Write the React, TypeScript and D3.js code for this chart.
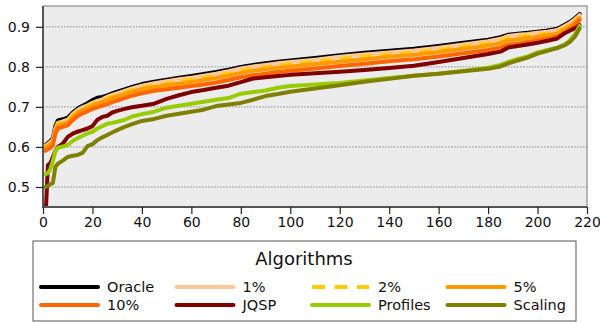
import React, { useRef, useEffect } from "react";
import * as d3 from "d3";

// sample positions (instance rank)
const xs = [
  1, 2, 3, 4, 5, 6, 8, 10, 12, 14, 16, 18, 20, 22, 24, 26, 28, 30, 33, 36, 40,
  45, 50, 55, 60, 65, 70, 75, 80, 85, 90, 95, 100, 110, 120, 130, 140, 150,
  160, 170, 180, 185, 188, 192, 196, 200, 204, 208, 211, 213, 215, 216, 217,
];

const oracle = [
  0.605, 0.61, 0.615, 0.622, 0.652, 0.666, 0.669, 0.673, 0.686, 0.696, 0.703,
  0.709, 0.717, 0.723, 0.725, 0.729, 0.734, 0.738, 0.744, 0.75, 0.757, 0.763,
  0.768, 0.773, 0.777, 0.782, 0.787, 0.793, 0.8, 0.805, 0.809, 0.813, 0.816,
  0.822, 0.829, 0.835, 0.84, 0.845, 0.852, 0.86, 0.868, 0.874, 0.88, 0.883,
  0.885, 0.888, 0.891, 0.895, 0.905, 0.912, 0.921, 0.926, 0.932,
];
const pct1 = [
  0.603, 0.607, 0.612, 0.618, 0.646, 0.66, 0.664, 0.668, 0.682, 0.692, 0.699,
  0.704, 0.71, 0.715, 0.719, 0.725, 0.73, 0.734, 0.74, 0.746, 0.753, 0.759,
  0.764, 0.769, 0.773, 0.778, 0.783, 0.789, 0.796, 0.801, 0.805, 0.809, 0.812,
  0.818, 0.825, 0.831, 0.836, 0.841, 0.848, 0.856, 0.864, 0.87, 0.877, 0.88,
  0.882, 0.885, 0.888, 0.892, 0.902, 0.909, 0.918, 0.923, 0.929,
];
const pct2 = [
  0.6, 0.605, 0.61, 0.616, 0.643, 0.657, 0.661, 0.665, 0.678, 0.689, 0.696,
  0.701, 0.707, 0.712, 0.716, 0.721, 0.726, 0.73, 0.736, 0.742, 0.748, 0.754,
  0.758, 0.763, 0.767, 0.772, 0.777, 0.783, 0.79, 0.795, 0.799, 0.803, 0.806,
  0.812, 0.819, 0.825, 0.83, 0.835, 0.842, 0.85, 0.858, 0.864, 0.871, 0.874,
  0.877, 0.88, 0.883, 0.887, 0.897, 0.905, 0.914, 0.919, 0.925,
];
const pct5 = [
  0.598, 0.602, 0.607, 0.612, 0.64, 0.653, 0.657, 0.661, 0.674, 0.685, 0.692,
  0.697, 0.703, 0.708, 0.712, 0.717, 0.722, 0.726, 0.732, 0.738, 0.744, 0.749,
  0.754, 0.758, 0.762, 0.767, 0.772, 0.778, 0.785, 0.79, 0.794, 0.798, 0.801,
  0.807, 0.813, 0.819, 0.825, 0.83, 0.837, 0.845, 0.853, 0.859, 0.866, 0.869,
  0.872, 0.875, 0.879, 0.883, 0.893, 0.901, 0.91, 0.916, 0.922,
];
const pct10 = [
  0.59, 0.594, 0.598, 0.604, 0.632, 0.646, 0.65, 0.654, 0.667, 0.677, 0.684,
  0.689, 0.695, 0.699, 0.703, 0.707, 0.712, 0.716, 0.722, 0.728, 0.734, 0.74,
  0.744, 0.748, 0.752, 0.756, 0.761, 0.767, 0.774, 0.779, 0.783, 0.787, 0.79,
  0.796, 0.802, 0.808, 0.814, 0.819, 0.826, 0.834, 0.842, 0.848, 0.855, 0.858,
  0.862, 0.866, 0.87, 0.875, 0.886, 0.895, 0.904, 0.911, 0.917,
];
const jqsp = [
  0.42, 0.555, 0.56, 0.575, 0.59, 0.6, 0.608, 0.625, 0.633, 0.638, 0.642,
  0.646, 0.652, 0.668, 0.675, 0.678, 0.686, 0.69, 0.695, 0.699, 0.703, 0.708,
  0.72, 0.729, 0.737, 0.742, 0.748, 0.753, 0.762, 0.771, 0.774, 0.777, 0.78,
  0.784, 0.788, 0.792, 0.797, 0.803, 0.812, 0.822, 0.832, 0.838, 0.848, 0.852,
  0.856, 0.86, 0.865, 0.871, 0.884, 0.89, 0.896, 0.9, 0.904,
];
const profiles = [
  0.532, 0.535, 0.545, 0.565, 0.59, 0.598, 0.601, 0.605, 0.615, 0.622, 0.628,
  0.634, 0.638, 0.646, 0.652, 0.658, 0.66, 0.663, 0.668, 0.676, 0.682, 0.688,
  0.698, 0.703, 0.708, 0.713, 0.718, 0.722, 0.733, 0.737, 0.741, 0.748, 0.752,
  0.756, 0.76, 0.766, 0.772, 0.778, 0.783, 0.79, 0.798, 0.805, 0.812, 0.82,
  0.826, 0.836, 0.842, 0.848, 0.856, 0.866, 0.88, 0.89, 0.902,
];
const scaling = [
  0.5, 0.503, 0.507, 0.51, 0.55, 0.558, 0.566, 0.575, 0.578, 0.58, 0.585,
  0.602, 0.607, 0.617, 0.624, 0.63, 0.636, 0.642, 0.65, 0.657, 0.665, 0.67,
  0.678, 0.683, 0.688, 0.693, 0.702, 0.706, 0.71, 0.718, 0.727, 0.732, 0.738,
  0.746, 0.754, 0.763, 0.77, 0.778, 0.783, 0.789, 0.795, 0.801, 0.808, 0.816,
  0.823, 0.833, 0.84, 0.847, 0.854, 0.862, 0.875, 0.885, 0.896,
];

const seriesNames = ["Oracle", "1%", "2%", "5%", "10%", "JQSP", "Profiles", "Scaling"];
const seriesValues = [oracle, pct1, pct2, pct5, pct10, jqsp, profiles, scaling];
const seriesColors = ["#000000", "#ffc896", "#ffcc00", "#ff9900", "#ff6600", "#800000", "#99cc00", "#808000"];

const xTicks = [0, 20, 40, 60, 80, 100, 120, 140, 160, 180, 200, 220];
const yTicks = [0.5, 0.6, 0.7, 0.8, 0.9];

const FONT = "DejaVu Sans, sans-serif";

const App: React.FC = () => {
  const svgRef = useRef<SVGSVGElement>(null);

  useEffect(() => {
    const svg = d3.select(svgRef.current);
    svg.selectAll("*").remove();

    const left = 43, right = 587, top = 6, bottom = 207;
    const x = d3.scaleLinear().domain([0, 220]).range([left, right]);
    const y = d3.scaleLinear().domain([0.45, 0.952]).range([bottom, top]);

    // plot background
    svg.append("rect")
      .attr("x", left).attr("y", top)
      .attr("width", right - left).attr("height", bottom - top)
      .attr("fill", "#ececec");

    svg.append("clipPath").attr("id", "plotclip")
      .append("rect")
      .attr("x", left).attr("y", top)
      .attr("width", right - left).attr("height", bottom - top);

    // grid
    svg.append("g")
      .selectAll("line")
      .data(yTicks)
      .join("line")
      .attr("x1", left).attr("x2", right)
      .attr("y1", (d) => y(d)).attr("y2", (d) => y(d))
      .attr("stroke", "#8a8a8a")
      .attr("stroke-width", 1)
      .attr("stroke-dasharray", "1.5,1.5");

    // lines
    const line = d3.line<[number, number]>()
      .x((d) => x(d[0]))
      .y((d) => y(d[1]));

    const lg = svg.append("g").attr("clip-path", "url(#plotclip)");
    seriesValues.forEach((vals, i) => {
      const pts: [number, number][] = xs.map((xv, j) => [xv, vals[j]]);
      lg.append("path")
        .attr("d", line(pts))
        .attr("fill", "none")
        .attr("stroke", seriesColors[i])
        .attr("stroke-width", 4)
        .attr("stroke-linejoin", "round")
        .attr("stroke-linecap", i === 2 ? "butt" : "round")
        .attr("stroke-dasharray", i === 2 ? "12,8" : null);
    });

    // frame
    svg.append("path")
      .attr("d", `M${left},${top}H${right}V${bottom}`)
      .attr("fill", "none")
      .attr("stroke", "#a0a0a0")
      .attr("stroke-width", 1.5);
    svg.append("path")
      .attr("d", `M${left},${top}V${bottom}H${right}`)
      .attr("fill", "none")
      .attr("stroke", "#555")
      .attr("stroke-width", 2);

    // axes
    const xAxisG = svg.append("g")
      .attr("transform", `translate(0,${bottom})`)
      .call(d3.axisBottom(x).tickValues(xTicks).tickSize(7).tickSizeOuter(0).tickPadding(3));
    const yAxisG = svg.append("g")
      .attr("transform", `translate(${left},0)`)
      .call(d3.axisLeft(y).tickValues(yTicks).tickFormat(d3.format(".1f")).tickSize(7).tickSizeOuter(0).tickPadding(6));
    [xAxisG, yAxisG].forEach((g) => {
      g.select(".domain").remove();
      g.selectAll("line").attr("stroke", "#222").attr("stroke-width", 1.2);
      g.selectAll("text")
        .attr("fill", "#111")
        .style("font-family", FONT)
        .style("font-size", "14px");
    });

    // legend
    const legend = svg.append("g");
    legend.append("rect")
      .attr("x", 33).attr("y", 241)
      .attr("width", 543).attr("height", 80)
      .attr("fill", "#fff")
      .attr("stroke", "#555")
      .attr("stroke-width", 1);
    legend.append("text")
      .attr("x", 304).attr("y", 265)
      .attr("text-anchor", "middle")
      .attr("fill", "#111")
      .style("font-family", FONT)
      .style("font-size", "18px")
      .text("Algorithms");

    seriesNames.forEach((name, i) => {
      const col = i % 4;
      const row = Math.floor(i / 4);
      const lx = 41 + col * 135.5;
      const ly = 287 + row * 18;
      const item = legend.append("g");
      item.append("line")
        .attr("x1", lx).attr("x2", lx + 57)
        .attr("y1", ly).attr("y2", ly)
        .attr("stroke", seriesColors[i])
        .attr("stroke-width", 4)
        .attr("stroke-linecap", i === 2 ? "butt" : "round")
        .attr("stroke-dasharray", i === 2 ? "13,9.5" : null);
      item.append("text")
        .attr("x", lx + 66).attr("y", ly + 5)
        .attr("fill", "#111")
        .style("font-family", FONT)
        .style("font-size", "14.5px")
        .text(name);
    });
  }, []);

  return (
    <svg
      ref={svgRef}
      width={600}
      height={322}
      viewBox="0 0 600 322"
      style={{ position: "absolute", left: 0, top: 0, background: "#fff" }}
    />
  );
};

export default App;
